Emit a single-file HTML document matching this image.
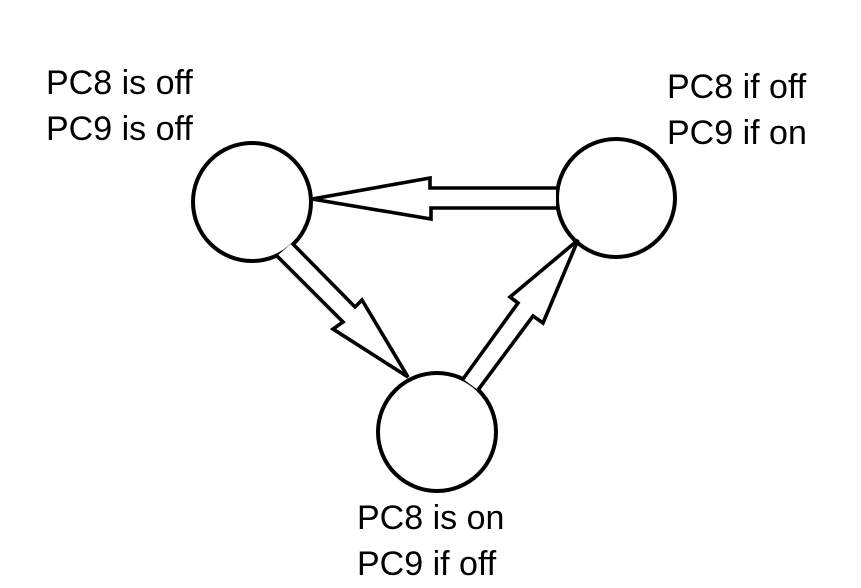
<!DOCTYPE html>
<html><head><style>
body{margin:0;background:#fff}
svg{display:block}
text{font-family:"Liberation Sans",sans-serif;font-size:34px;fill:#000}
</style></head><body>
<svg width="861" height="588" viewBox="0 0 861 588" xmlns="http://www.w3.org/2000/svg">
<rect width="861" height="588" fill="#fff"/>
<g fill="none" stroke="#000" stroke-width="4">
<circle cx="252" cy="202" r="59"/>
<circle cx="616" cy="198" r="59"/>
<circle cx="437" cy="432" r="59"/>
</g>
<g fill="#fff" stroke="#000" stroke-width="3.6" stroke-linejoin="miter">
<polyline points="556,188 430,188 430,178 312,199 431,219 431,208 556,208"/>
<polyline points="277,256 343,322 333,329 408,377 362,300 355,307 292,243"/>
<polyline points="463,379 518,303 510,297 578,240 543,323 533,316 478,390"/>
</g>
<text x="46" y="94">PC8 is off</text>
<text x="46" y="140">PC9 is off</text>
<text x="667" y="98">PC8 if off</text>
<text x="667" y="144">PC9 if on</text>
<text x="357" y="529">PC8 is on</text>
<text x="357" y="575">PC9 if off</text>
</svg>
</body></html>
